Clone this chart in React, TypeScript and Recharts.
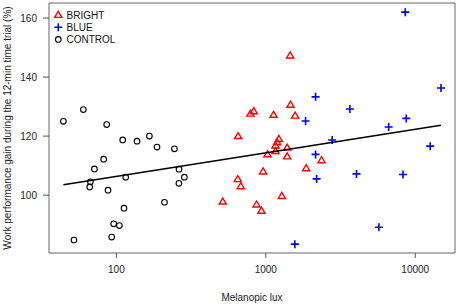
import React from 'react'
import { ScatterChart, Scatter, XAxis, YAxis, ReferenceArea } from 'recharts'

// melanopic lux vs work performance gain (%)
const brightLux = [1463, 1571, 1127, 789, 831, 653, 1222, 1191, 1162, 1390, 1026, 1162, 1390, 959, 1862, 2361, 649, 680, 1280, 515, 867, 935, 1456]
const brightGain = [130.6, 126.9, 127.2, 127.6, 128.4, 120.0, 119.0, 117.9, 116.8, 116.1, 113.8, 114.9, 113.1, 108.0, 109.1, 111.8, 105.4, 103.0, 99.7, 97.8, 96.8, 94.7, 147.3]

const blueLux = [8570, 14860, 2153, 3653, 1845, 8710, 6640, 2780, 12590, 2153, 2188, 4045, 8280, 5714, 1564]
const blueGain = [162.0, 136.3, 133.3, 129.2, 125.1, 126.0, 123.1, 118.7, 116.6, 113.8, 105.5, 107.2, 107.0, 89.1, 83.4]

const controlLux = [44.2, 60.1, 86.1, 110.2, 137.4, 166.3, 187, 244.5, 82.2, 71.3, 67, 66.3, 115.4, 87.9, 262.4, 285, 262, 209.8, 112.4, 95.9, 104.7, 93.0, 52.0]
const controlGain = [125.0, 129.0, 123.9, 118.7, 118.3, 120.0, 116.3, 115.7, 112.2, 108.9, 104.5, 102.8, 106.1, 101.7, 108.8, 106.1, 104.0, 97.6, 95.6, 90.3, 89.7, 85.8, 84.8]

// regression line end points
const fitLux = [44.2, 14860]
const fitGain = [103.5, 123.7]

const xTicks = [100, 1000, 10000]
const yTicks = [100, 120, 140, 160]
const xDomain = [35.4, 18450]
const yDomain = [80.4, 165.1]

const zip = (xs: number[], ys: number[]) => xs.map((x, i) => ({ lux: x, gain: ys[i] }))

const bright = zip(brightLux, brightGain)
const blue = zip(blueLux, blueGain)
const control = zip(controlLux, controlGain)
const fit = zip(fitLux, fitGain)

const FONT = '"Liberation Sans", Arial, sans-serif'
const RED = '#ff0000'
const BLUE = '#0000ff'

const Triangle = ({ cx, cy }: any) => (
  <path d={`M${cx},${cy - 3.6}L${cx + 3.6},${cy + 2.4}L${cx - 3.6},${cy + 2.4}Z`} fill="none" stroke={RED} strokeWidth={1.4} />
)
const Plus = ({ cx, cy }: any) => (
  <path d={`M${cx - 4},${cy}H${cx + 4}M${cx},${cy - 4}V${cy + 4}`} fill="none" stroke={BLUE} strokeWidth={1.6} />
)
const Ring = ({ cx, cy }: any) => (
  <circle cx={cx} cy={cy} r={2.8} fill="none" stroke="#000" strokeWidth={1.1} />
)

const legendRows = [
  { name: 'BRIGHT', Icon: Triangle },
  { name: 'BLUE', Icon: Plus },
  { name: 'CONTROL', Icon: Ring },
]

function LegendBox() {
  return (
    <svg width={140} height={50} style={{ position: 'absolute', left: 0, top: 0 }}>
      {legendRows.map((r, i) => (
        <g key={r.name}>
          <r.Icon cx={58.3} cy={15 + i * 12.2} />
          <text x={66.5} y={15 + i * 12.2} dy="0.35em" fontSize={10} fontFamily={FONT} fill="#111">{r.name}</text>
        </g>
      ))}
    </svg>
  )
}

export default function App() {
  return (
    <div style={{ position: 'absolute', left: 0, top: 0, width: 459, height: 304, background: '#fff' }}>
      <ScatterChart width={459} height={304} margin={{ top: 3, right: 4, bottom: 0, left: 0 }}>
        <XAxis
          dataKey="lux"
          type="number"
          scale="log"
          domain={xDomain}
          ticks={xTicks}
          allowDataOverflow
          height={51}
          axisLine={false}
          tickLine={{ stroke: '#555' }}
          tickSize={5}
          tickMargin={8}
          tick={{ fontSize: 10, fontFamily: FONT, fill: '#222' }}
          label={{ value: 'Melanopic lux', position: 'insideBottom', offset: 3, fontSize: 10, fontFamily: FONT, fill: '#222' }}
        />
        <YAxis
          dataKey="gain"
          type="number"
          domain={yDomain}
          ticks={yTicks}
          allowDataOverflow
          width={49}
          axisLine={false}
          tickLine={{ stroke: '#555' }}
          tickSize={6}
          tickMargin={6}
          tick={{ fontSize: 10, fontFamily: FONT, fill: '#222' }}
          label={{
            content: ({ viewBox }: any) => (
              <text
                x={7}
                y={viewBox.y + viewBox.height / 2}
                transform={`rotate(-90 7 ${viewBox.y + viewBox.height / 2})`}
                textAnchor="middle"
                dominantBaseline="central"
                fontSize={10}
                fontFamily={FONT}
                fill="#222"
              >
                Work performance gain during the 12-min time trial (%)
              </text>
            ),
          }}
        />
        <ReferenceArea x1={xDomain[0]} x2={xDomain[1]} y1={yDomain[0]} y2={yDomain[1]} fill="none" stroke="#666" strokeWidth={1} ifOverflow="visible" />
        <Scatter data={control} shape={Ring} isAnimationActive={false} />
        <Scatter data={bright} shape={Triangle} isAnimationActive={false} />
        <Scatter data={blue} shape={Plus} isAnimationActive={false} />
        <Scatter data={fit} line={{ stroke: '#000', strokeWidth: 1.5 }} shape={() => null} isAnimationActive={false} />
      </ScatterChart>
      <LegendBox />
    </div>
  )
}
